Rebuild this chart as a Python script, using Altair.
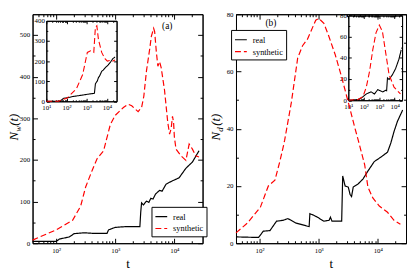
import altair as alt
import pandas as pd

FONT = "Liberation Serif"
W, H = 173, 233

# ---------------- data ----------------
SERIES = ["real", "synthetic"]
COLORS = ["#000000", "#ff0000"]
DASHES = [[1, 0], [6, 3]]

# panel (a) main
a_real_t = [40, 100, 114, 167, 202, 297, 435, 726, 770, 1000, 1560, 2610, 2700, 2790, 3000, 3375, 3700,
            4000, 4350, 4800, 5620, 6200, 7250, 9330, 12000, 15670, 20190, 26100]
a_real_v = [4.5, 4.5, 10, 15, 23, 25, 23.5, 23.5, 32, 38, 40, 40, 75, 97, 92, 101, 98,
            108, 106, 118, 127, 125, 142, 150, 157, 180, 195, 222]
a_syn_t = [40, 100, 190, 260, 316, 410, 493, 635, 708, 826, 1000, 1374, 1660, 1900, 2150, 2440, 2790,
           3044, 3375, 3830, 4080, 4460, 4640, 4960, 5260, 5620, 5995, 6810, 7730, 8300, 8810, 9300,
           9700, 10000, 10660, 12940, 15670, 17780, 20190, 23000, 26100]
a_syn_v = [7.5, 32, 55, 89, 135, 176, 203, 222, 248, 285, 307, 326, 334, 330, 323, 316, 326,
           353, 414, 467, 497, 516, 508, 459, 425, 436, 421, 368, 290, 262, 275, 305,
           290, 255, 226, 210, 199, 238, 226, 210, 207]

# panel (a) inset
ai_real_t = [10, 40, 50, 72, 150, 213, 400, 630, 1290, 2230, 2400, 2680, 3000, 3300, 3800, 4300, 5500,
             6500, 7940, 11300, 15000, 19600, 25000]
ai_real_v = [0, 0, 2, 15, 20, 24, 28, 31, 36, 39, 40, 86, 95, 100, 118, 125, 149,
             155, 165, 180, 195, 212, 220]
ai_syn_t = [10, 40, 60, 105, 310, 630, 1070, 1550, 2230, 2680, 3160, 3800, 5500, 6600, 7940, 10500,
            16200, 19600, 25000]
ai_syn_v = [0, 0, 8, 15, 63, 133, 243, 251, 243, 368, 376, 306, 243, 227, 212, 200,
            204, 200, 205]

# panel (b) main
b_real_t = [40, 96, 116, 150, 194, 250, 302, 416, 690, 710, 838, 950, 1225, 1500, 1580, 1680, 2450,
            2550, 2800, 3170, 3400, 3600, 3840, 4640, 5600, 6800, 8700, 11300, 14600, 16600, 18800,
            21500, 26300]
b_real_v = [2.2, 2, 4.2, 4.4, 7.7, 8, 8.6, 7, 5.8, 10.3, 9.7, 9.1, 7.7, 8, 9.1, 7.7, 7.7,
            23.5, 20, 19.6, 17, 16.3, 19.6, 20.7, 22.4, 25.2, 28.5, 30.1, 31.8, 35, 39,
            42.6, 46.5]
b_syn_t = [40, 62, 103, 141, 182, 220, 250, 266, 344, 442, 534, 647, 737, 892, 1010, 1225, 1480, 1910,
           2450, 3170, 4080, 4640, 6000, 6800, 8240, 10600, 14600, 18800, 24100]
b_syn_v = [3.6, 7, 12.5, 20, 22, 28.5, 33.4, 36, 49, 64.7, 69, 71.3, 74, 77.9, 78.5, 76.8, 72.4, 65.8,
           58, 49.2, 40.4, 36.2, 27.4, 19.6, 15.8, 13, 10.8, 8, 6.6]

# panel (b) inset
bi_real_t = [10, 40, 69, 145, 295, 490, 800, 1660, 2630, 3000, 3400, 4340, 7080, 11500, 18700, 26300]
bi_real_v = [0, 0.5, 2, 5.9, 7.9, 5.9, 10, 7.9, 9.4, 9, 21, 19.6, 24, 30, 38.7, 47.5]
bi_syn_t = [10, 43, 89, 145, 235, 380, 615, 1010, 1600, 2630, 4340, 9040, 23500]
bi_syn_v = [0, 0.6, 3.5, 12.3, 27, 47.5, 63.6, 71, 65, 44.5, 24, 12.3, 5.9]

# axis domains / ticks
XDOM = [40, 30000]
IXDOM = [10, 30000]
X_MAJ = [100, 1000, 10000]
X_MIN = [50, 60, 70, 80, 90] + [k * 100 for k in range(2, 10)] + [k * 1000 for k in range(2, 10)] + [20000]
IX_MAJ = [10, 100, 1000, 10000]
IX_MIN = [k * 10 for k in range(2, 10)] + X_MIN[5:]
LOG_LABEL = ("datum.value==10?'10¹':datum.value==100?'10²':datum.value==1000?'10³':"
             "datum.value==10000?'10⁴':''")


def frame(t_r, v_r, t_s, v_s):
    return pd.DataFrame({
        "t": list(t_r) + list(t_s),
        "v": list(v_r) + list(v_s),
        "series": ["real"] * len(t_r) + ["synthetic"] * len(t_s),
    })


def axis(orient, values, size, offset=0, labels=False, expr=None, pad=3):
    kw = dict(orient=orient, values=values, tickSize={"expr": str(-size)}, offset=offset,
              labels=labels, title=None, grid=False, domain=True, domainColor="black",
              domainWidth=1, tickColor="black", tickWidth=1, labelFlush=False,
              labelOverlap=False)
    if labels:
        kw.update(labelFont=FONT, labelFontSize=7, labelColor="black", labelPadding=pad + size)
        if expr:
            kw["labelExpr"] = expr
    return alt.Axis(**kw)


def text_layer(s, x, y, size, style="normal", angle=0, align="center", baseline="middle"):
    return alt.Chart(pd.DataFrame({"s": [s]})).mark_text(
        font=FONT, fontSize=size, fontStyle=style, angle=angle, align=align,
        baseline=baseline, color="black").encode(text="s:N", x=alt.value(x), y=alt.value(y))


def panel(dm, di, ydom, ymaj, ymin, iydom, iymaj, iymin, ixr, iyr, leg_xy, tag, tag_xy, sub,
          ytx):
    xs = alt.Scale(type="log", domain=XDOM, nice=False)
    ys = alt.Scale(domain=ydom, nice=False, zero=False)
    ixs = alt.Scale(type="log", domain=IXDOM, range=ixr, nice=False)
    iys = alt.Scale(domain=iydom, range=iyr, nice=False, zero=False)
    col_s = alt.Scale(domain=SERIES, range=COLORS)
    dash_s = alt.Scale(domain=SERIES, range=DASHES)
    leg = alt.Legend(orient="none", legendX=leg_xy[0], legendY=leg_xy[1], title=None,
                     symbolType="stroke", symbolSize=144, symbolStrokeWidth=1.2,
                     labelFont=FONT, labelFontSize=8.5, labelColor="black", padding=3,
                     rowPadding=0, labelOffset=5, strokeColor="black", fillColor="white",
                     cornerRadius=0)

    ob, ot = -(H - iyr[0]), -iyr[1]
    ol, orr = -ixr[0], -(W - ixr[1])

    layers = [
        alt.Chart(dm).mark_line(strokeWidth=1.2).encode(
            x=alt.X("t:Q", scale=xs, axis=axis("bottom", X_MAJ, 5, labels=True, expr=LOG_LABEL)),
            y=alt.Y("v:Q", scale=ys, axis=axis("left", ymaj, 5, labels=True)),
            color=alt.Color("series:N", scale=col_s, legend=leg),
            strokeDash=alt.StrokeDash("series:N", scale=dash_s, legend=leg)),
        alt.Chart(dm).mark_line(strokeOpacity=0).encode(
            x=alt.X("t:Q", scale=xs, axis=axis("top", X_MAJ, 5)),
            y=alt.Y("v:Q", scale=ys, axis=axis("right", ymaj, 5))),
        alt.Chart(dm).mark_line(strokeOpacity=0).encode(
            x=alt.X("t:Q", scale=xs, axis=axis("bottom", X_MIN, 2.5)),
            y=alt.Y("v:Q", scale=ys, axis=axis("left", ymin, 2.5))),
        alt.Chart(dm).mark_line(strokeOpacity=0).encode(
            x=alt.X("t:Q", scale=xs, axis=axis("top", X_MIN, 2.5)),
            y=alt.Y("v:Q", scale=ys, axis=axis("right", ymin, 2.5))),
        alt.Chart(di).mark_line(strokeWidth=1.1).encode(
            x=alt.X("t:Q", scale=ixs, axis=axis("bottom", IX_MAJ, 3, offset=ob, labels=True,
                                                 expr=LOG_LABEL, pad=2)),
            y=alt.Y("v:Q", scale=iys, axis=axis("left", iymaj, 3, offset=ol, labels=True, pad=2)),
            color=alt.Color("series:N", scale=col_s, legend=None),
            strokeDash=alt.StrokeDash("series:N", scale=dash_s, legend=None)),
        alt.Chart(di).mark_line(strokeOpacity=0).encode(
            x=alt.X("t:Q", scale=ixs, axis=axis("top", IX_MAJ, 3, offset=ot)),
            y=alt.Y("v:Q", scale=iys, axis=axis("right", iymaj, 3, offset=orr))),
        alt.Chart(di).mark_line(strokeOpacity=0).encode(
            x=alt.X("t:Q", scale=ixs, axis=axis("bottom", IX_MIN, 1.5, offset=ob)),
            y=alt.Y("v:Q", scale=iys, axis=axis("left", iymin, 1.5, offset=ol))),
        alt.Chart(di).mark_line(strokeOpacity=0).encode(
            x=alt.X("t:Q", scale=ixs, axis=axis("top", IX_MIN, 1.5, offset=ot)),
            y=alt.Y("v:Q", scale=iys, axis=axis("right", iymin, 1.5, offset=orr))),
        text_layer(tag, tag_xy[0], tag_xy[1], 9.5),
        text_layer("t", 97, 258.5, 13, baseline="alphabetic"),
        # y title: N_sub(t), rotated
        text_layer("N", ytx, 128.5, 13, style="italic", angle=270, align="left",
                   baseline="alphabetic"),
        text_layer(sub, ytx + 3, 119.6, 9, style="italic", angle=270, align="left",
                   baseline="alphabetic"),
        text_layer("(t)", ytx, 113.6, 13, style="italic", angle=270, align="left",
                   baseline="alphabetic"),
    ]
    return alt.layer(*layers).resolve_scale(x="independent", y="independent").properties(
        width=W, height=H)


da = frame(a_real_t, a_real_v, a_syn_t, a_syn_v)
dai = frame(ai_real_t, ai_real_v, ai_syn_t, ai_syn_v)
db = frame(b_real_t, b_real_v, b_syn_t, b_syn_v)
dbi = frame(bi_real_t, bi_real_v, bi_syn_t, bi_syn_v)

pa = panel(da, dai, [0, 550], [0, 100, 200, 300, 400, 500], [50, 150, 250, 350, 450],
           [0, 400], [0, 100, 200, 300, 400], [50, 150, 250, 350],
           [14, 85.5], [88.6, 6.7], (121, 196), "(a)", (137, 12.5), "w", -15)
pb = panel(db, dbi, [0, 80], [0, 20, 40, 60, 80], [10, 30, 50, 70],
           [0, 80], [0, 20, 40, 60, 80], [10, 30, 50, 70],
           [114.3, 169], [87.5, 1.3], (-5, 16), "(b)", (35.5, 9), "d", -16)

chart = alt.hconcat(pa, pb, spacing=34, bounds="flush").resolve_scale(
    color="independent", strokeDash="independent").properties(
    padding={"left": 0, "top": 0, "right": 0, "bottom": 0}).configure_view(stroke=None)

chart.save("out.html", embed_options={"renderer": "svg", "actions": False})
